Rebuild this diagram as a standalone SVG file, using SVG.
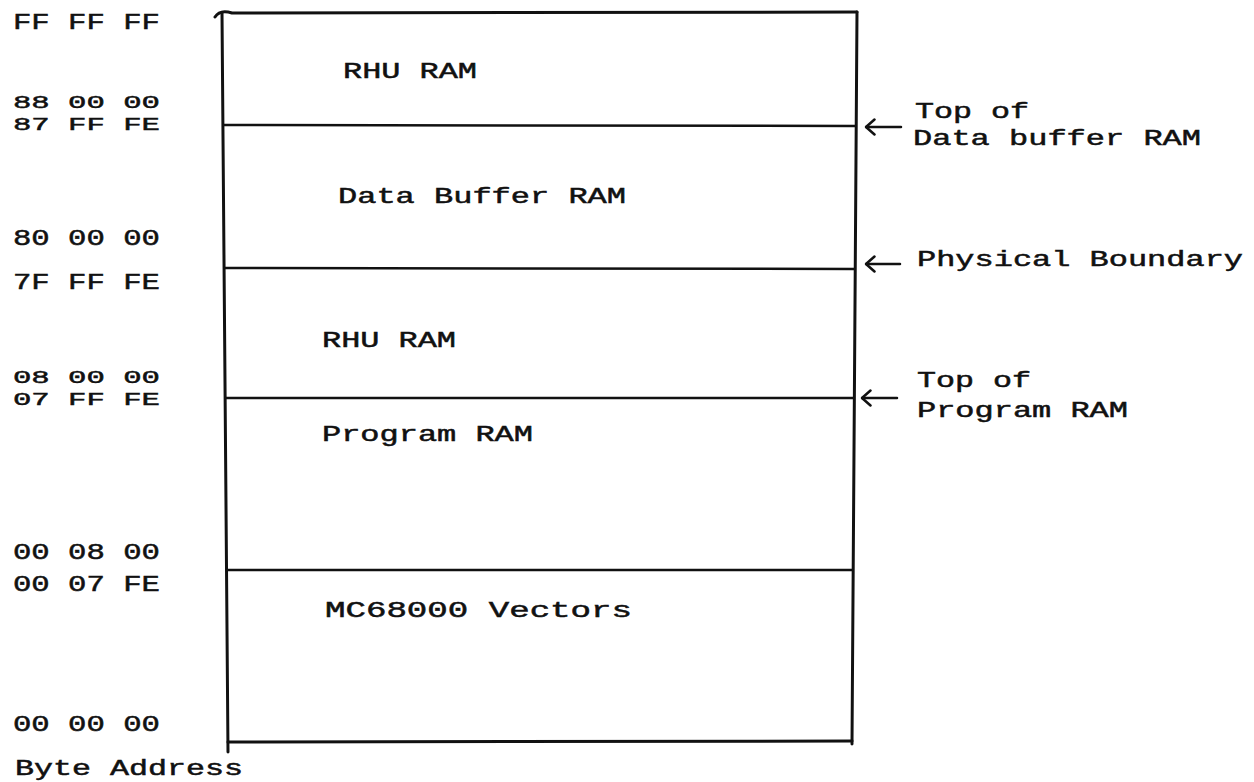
<svg xmlns="http://www.w3.org/2000/svg" width="1254" height="782" viewBox="0 0 1254 782">
  <style>
    .t { font-family: "Liberation Mono", "DejaVu Sans Mono", monospace; font-size: 22px; fill: #111; stroke: #111; stroke-width: 0.5; }
    .tight { font-size: 19px; }
    .frame { stroke: #111; stroke-width: 3; fill: none; stroke-linecap: round; }
    .div { stroke: #111; stroke-width: 2.5; fill: none; }
    .ptr { stroke: #111; stroke-width: 2.5; fill: none; stroke-linecap: round; }
  </style>
  <defs>
    <!-- open chevron pointing along the path direction -->
    <marker id="head" viewBox="0 0 12 18" refX="10.5" refY="9" markerWidth="12" markerHeight="18" markerUnits="userSpaceOnUse" orient="auto">
      <path d="M2,1.5 L10.5,9 L2,16.5" fill="none" stroke="#111" stroke-width="2.5" stroke-linecap="round" stroke-linejoin="round"/>
    </marker>
  </defs>
  <rect width="1254" height="782" fill="#fff"/>

  <!-- memory map frame -->
  <g id="frame">
    <path class="frame" d="M215,17 Q220,9 232,13 L857,12"/>
    <path class="frame" d="M222,13 L228,752"/>
    <path class="frame" d="M857,12 L852,744"/>
    <path class="frame" d="M228,742 L852,741"/>
  </g>

  <!-- regions, top to bottom -->
  <g id="rhu-ram-high">
    <text class="t" x="343" y="78" textLength="134" lengthAdjust="spacingAndGlyphs">RHU RAM</text>
  </g>
  <g id="data-buffer-ram">
    <path class="div" d="M223,125 L856,126"/>
    <text class="t" x="338" y="203" textLength="288" lengthAdjust="spacingAndGlyphs">Data Buffer RAM</text>
  </g>
  <g id="rhu-ram-low">
    <path class="div" d="M224,268 L855,269"/>
    <text class="t" x="322" y="347" textLength="134" lengthAdjust="spacingAndGlyphs">RHU RAM</text>
  </g>
  <g id="program-ram">
    <path class="div" d="M225,398 L854,398"/>
    <text class="t" x="322" y="441" textLength="211" lengthAdjust="spacingAndGlyphs">Program RAM</text>
  </g>
  <g id="mc68000-vectors">
    <path class="div" d="M226,570 L853,570"/>
    <text class="t" x="325" y="617" textLength="307" lengthAdjust="spacingAndGlyphs">MC68000  Vectors</text>
  </g>

  <!-- byte addresses -->
  <g id="addresses">
    <text class="t" x="13" y="29" textLength="147" lengthAdjust="spacingAndGlyphs">FF FF FF</text>
    <text class="t tight" x="13" y="108" textLength="147" lengthAdjust="spacingAndGlyphs">88 00 00</text>
    <text class="t tight" x="13" y="130" textLength="147" lengthAdjust="spacingAndGlyphs">87 FF FE</text>
    <text class="t" x="13" y="245" textLength="147" lengthAdjust="spacingAndGlyphs">80 00 00</text>
    <text class="t" x="13" y="289" textLength="147" lengthAdjust="spacingAndGlyphs">7F FF FE</text>
    <text class="t tight" x="13" y="383" textLength="147" lengthAdjust="spacingAndGlyphs">08 00 00</text>
    <text class="t tight" x="13" y="405" textLength="147" lengthAdjust="spacingAndGlyphs">07 FF FE</text>
    <text class="t" x="13" y="559" textLength="147" lengthAdjust="spacingAndGlyphs">00 08 00</text>
    <text class="t" x="13" y="591" textLength="147" lengthAdjust="spacingAndGlyphs">00 07 FE</text>
    <text class="t" x="13" y="731" textLength="147" lengthAdjust="spacingAndGlyphs">00 00 00</text>
    <text class="t" x="15" y="775" textLength="228" lengthAdjust="spacingAndGlyphs">Byte Address</text>
  </g>

  <!-- boundary notes -->
  <g id="note-data-top">
    <text class="t" x="915" y="118" textLength="114" lengthAdjust="spacingAndGlyphs">Top of</text>
    <text class="t" x="913" y="145" textLength="288" lengthAdjust="spacingAndGlyphs">Data buffer RAM</text>
  </g>
  <g id="note-physical">
    <text class="t" x="917" y="266" textLength="326" lengthAdjust="spacingAndGlyphs">Physical Boundary</text>
  </g>
  <g id="note-program-top">
    <text class="t" x="917" y="387" textLength="114" lengthAdjust="spacingAndGlyphs">Top of</text>
    <text class="t" x="917" y="417" textLength="211" lengthAdjust="spacingAndGlyphs">Program RAM</text>
  </g>

  <g id="connectors">
    <path class="ptr" d="M901,127 L866,127" marker-end="url(#head)"/>
    <path class="ptr" d="M900,264 L866,264" marker-end="url(#head)"/>
    <path class="ptr" d="M897,398 L862,398" marker-end="url(#head)"/>
  </g>
</svg>
